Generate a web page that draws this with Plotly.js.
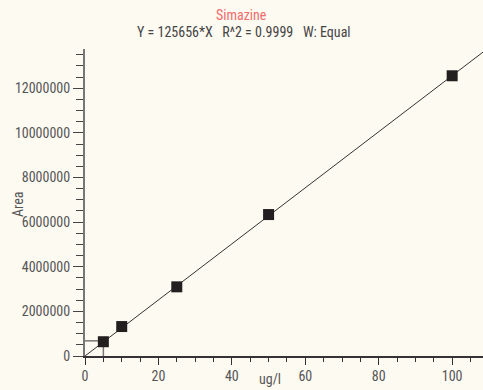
<!DOCTYPE html>
<html><head><meta charset="utf-8">
<script src="https://cdn.plot.ly/plotly-3.0.1.min.js"></script>
<style>html,body{margin:0;padding:0;background:#FDFAF2;}#c{width:483px;height:390px;}</style>
</head><body><div id="c"></div>
<script>
const concentrations = [5, 10, 25, 50, 100];
const areas = [640000, 1320000, 3100000, 6340000, 12560000];
const slope = 125656;
const fitX = [0, 108.4];
const xTicks = [0, 20, 40, 60, 80, 100];
const yTicks = [0, 2000000, 4000000, 6000000, 8000000, 10000000, 12000000];
const markX = 5, markY = 680000;

const F = '"Roboto Condensed", "DejaVu Sans Condensed", sans-serif';
const traces = [
  {x: [0, markX], y: [markY, markY], mode: 'lines', line: {color: '#777', width: 1.5}, hoverinfo: 'skip'},
  {x: [markX, markX], y: [0, markY], mode: 'lines', line: {color: '#777', width: 1.5}, hoverinfo: 'skip'},
  {x: fitX, y: fitX.map(v => v * slope), mode: 'lines', line: {color: '#333', width: 1}},
  {x: concentrations, y: areas, mode: 'markers', marker: {symbol: 'square', size: 11, color: '#231f20'}}
];
const fnt = (size, color) => ({family: F, size: size, color: color});
const layout = {
  width: 483, height: 390,
  margin: {l: 85, r: 0, t: 49, b: 34},
  paper_bgcolor: '#FDFAF2', plot_bgcolor: '#FDFAF2',
  showlegend: false,
  font: fnt(14, '#444'),
  xaxis: {range: [0, 108.4], tickvals: xTicks, ticktext: xTicks.map(String),
    ticks: 'outside', ticklen: 7, tickcolor: '#333', tickwidth: 1,
    minor: {dtick: 5, ticks: 'outside', ticklen: 4, tickcolor: '#333'},
    showgrid: false, zeroline: false, showline: true, linecolor: '#333', linewidth: 1.5,
    tickfont: fnt(14, '#555'), fixedrange: true},
  yaxis: {range: [0, 13760000], tickvals: yTicks, ticktext: yTicks.map(String),
    ticks: 'outside', ticklen: 10, tickcolor: '#444', tickwidth: 1,
    minor: {dtick: 500000, ticks: 'outside', ticklen: 7, tickcolor: '#444'},
    showgrid: false, zeroline: false, showline: true, linecolor: '#777', linewidth: 2,
    tickfont: fnt(14, '#555'), fixedrange: true},
  annotations: [
    {text: 'Simazine', x: 241, y: 15, font: fnt(14, '#F26B6B')},
    {text: 'Y = 125656*X &nbsp; R^2 = 0.9999 &nbsp; W: Equal', x: 244, y: 32, font: fnt(14, '#444')},
    {text: 'ug/l', x: 270, y: 379, font: fnt(14, '#555')},
    {text: 'Area', x: 18, y: 205, textangle: -90, font: fnt(14, '#555')}
  ]
};
layout.annotations = layout.annotations.map(a => Object.assign({}, a, {
  showarrow: false, xref: 'paper', yref: 'paper',
  x: (a.x - 85) / 398, y: 1 + (49 - a.y) / 307, xanchor: 'center', yanchor: 'middle'}));
Plotly.newPlot('c', traces, layout, {displayModeBar: false, staticPlot: true});
</script></body></html>
